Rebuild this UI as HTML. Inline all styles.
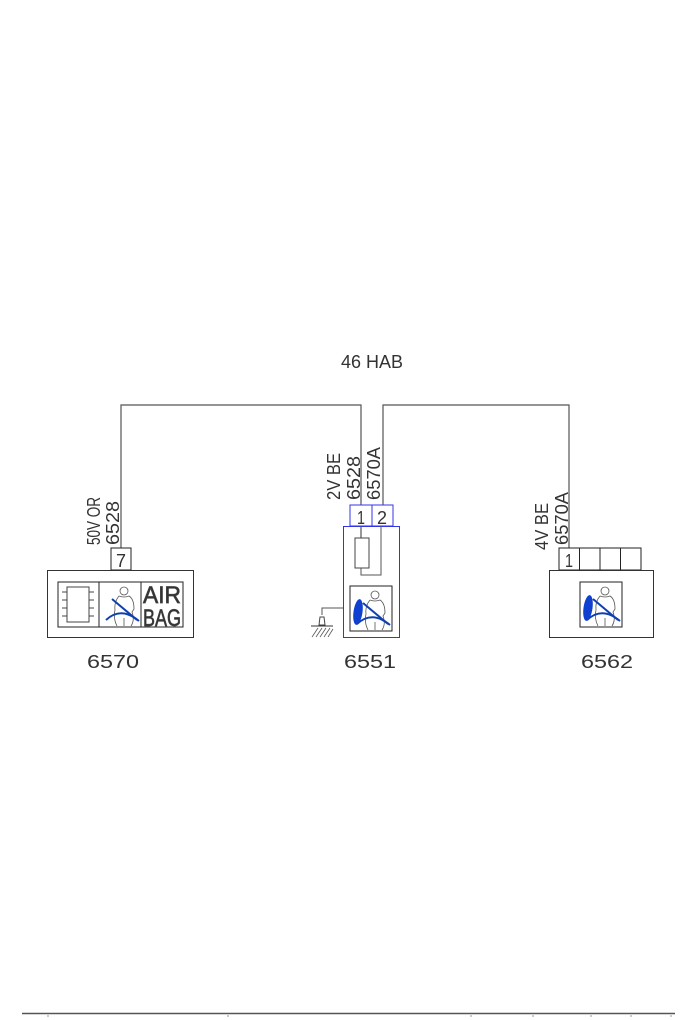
<!DOCTYPE html>
<html><head><meta charset="utf-8"><style>
html,body{margin:0;padding:0;background:#fff;}
svg{display:block;}
text{font-family:"Liberation Sans",sans-serif;fill:#333;}
</style></head><body>
<svg width="700" height="1020" viewBox="0 0 700 1020" xmlns="http://www.w3.org/2000/svg">
<defs>
<g id="person">
  <rect x="0" y="0" width="42" height="45" fill="#fff" stroke="#222" stroke-width="1"/>
  <circle cx="25" cy="9" r="4" fill="none" stroke="#555" stroke-width="0.8"/>
  <path d="M20 14 Q25 16 30 14 Q35 17 35 27 L33 30 Q36 38 32 44 M20 14 Q15 20 16 28 Q14 36 18 44 M25 44 L25 36" fill="none" stroke="#555" stroke-width="0.8"/>
  <line x1="13" y1="17" x2="38" y2="38" stroke="#1040b0" stroke-width="2"/>
  <path d="M7 38 Q22 24 40 39" fill="none" stroke="#1040b0" stroke-width="2"/>
</g>
</defs>
<g stroke="#555" stroke-width="1.2" fill="none">
  <polyline points="121,548 121,405 361,405 361,538"/>
  <polyline points="383,526 383,405 569,405 569,548"/>
</g>
<g font-size="18" font-weight="300" lengthAdjust="spacingAndGlyphs">
<text x="341" y="368" textLength="62" lengthAdjust="spacingAndGlyphs">46  HAB</text>
<!-- left -->
<rect x="111" y="548" width="20" height="22" fill="#fff" stroke="#222"/>
<text x="116" y="567" textLength="10" lengthAdjust="spacingAndGlyphs">7</text>
<rect x="47.5" y="570.5" width="146" height="67" fill="#fff" stroke="#333"/>
<rect x="58" y="582" width="41" height="45" fill="#fff" stroke="#222"/>
<rect x="67" y="587" width="22" height="35" fill="none" stroke="#444"/>
<g stroke="#444"><line x1="62" y1="592" x2="67" y2="592"/><line x1="62" y1="600" x2="67" y2="600"/><line x1="62" y1="608" x2="67" y2="608"/><line x1="62" y1="616" x2="67" y2="616"/><line x1="89" y1="592" x2="94" y2="592"/><line x1="89" y1="600" x2="94" y2="600"/><line x1="89" y1="608" x2="94" y2="608"/><line x1="89" y1="616" x2="94" y2="616"/></g>
<use href="#person" x="99" y="582"/>
<rect x="141" y="582" width="42" height="45" fill="#fff" stroke="#222"/>
<text x="143" y="603" font-size="24" textLength="38" lengthAdjust="spacingAndGlyphs" fill="#fff" stroke="#444" stroke-width="0.7">AIR</text>
<text x="143" y="626" font-size="24" textLength="38" lengthAdjust="spacingAndGlyphs" fill="#fff" stroke="#444" stroke-width="0.7">BAG</text>
<text transform="translate(100 545) rotate(-90)" textLength="48" lengthAdjust="spacingAndGlyphs">50V  OR</text>
<text transform="translate(119 545) rotate(-90)" textLength="44" lengthAdjust="spacingAndGlyphs">6528</text>
<text x="87" y="668" textLength="52" lengthAdjust="spacingAndGlyphs">6570</text>
<!-- middle -->
<rect x="350" y="505" width="43" height="21" fill="#fff" stroke="#3333ee"/>
<line x1="372" y1="505" x2="372" y2="526" stroke="#3333ee"/>
<text x="357" y="524" textLength="8" lengthAdjust="spacingAndGlyphs">1</text>
<text x="377" y="524" textLength="10" lengthAdjust="spacingAndGlyphs">2</text>
<rect x="343.5" y="526.5" width="56" height="111" fill="none" stroke="#3333ee"/>
<line x1="361" y1="526" x2="361" y2="538" stroke="#555"/>
<rect x="355" y="538" width="14" height="30" fill="#fff" stroke="#444"/>
<polyline points="361,568 361,575 381,575 381,526" fill="none" stroke="#555"/>
<use href="#person" x="350" y="586"/>
<ellipse cx="358" cy="612" rx="4.5" ry="13" transform="rotate(8 358 612)" fill="#1040d0"/>
<polyline points="343,608 322,608 322,615" fill="none" stroke="#555"/>
<path d="M319 625 L320 617 L324 617 L325 625 Z" fill="none" stroke="#444"/>
<line x1="311" y1="626" x2="333" y2="626" stroke="#333"/>
<g stroke="#555" stroke-width="0.8"><line x1="312" y1="637" x2="318" y2="628"/><line x1="316" y1="637" x2="322" y2="628"/><line x1="320" y1="637" x2="326" y2="628"/><line x1="324" y1="637" x2="330" y2="628"/><line x1="328" y1="637" x2="333" y2="629"/></g>
<text transform="translate(340 500) rotate(-90)" textLength="47" lengthAdjust="spacingAndGlyphs">2V  BE</text>
<text transform="translate(360 500) rotate(-90)" textLength="44" lengthAdjust="spacingAndGlyphs">6528</text>
<text transform="translate(380 500) rotate(-90)" textLength="53" lengthAdjust="spacingAndGlyphs">6570A</text>
<text x="344" y="668" textLength="52" lengthAdjust="spacingAndGlyphs">6551</text>
<!-- right -->
<g fill="#fff" stroke="#222"><rect x="559" y="548" width="20.5" height="22"/><rect x="579.5" y="548" width="20.5" height="22"/><rect x="600" y="548" width="20.5" height="22"/><rect x="620.5" y="548" width="20.5" height="22"/></g>
<text x="565" y="567" textLength="8" lengthAdjust="spacingAndGlyphs">1</text>
<rect x="549.5" y="570.5" width="104" height="67" fill="#fff" stroke="#333"/>
<use href="#person" x="580" y="582"/>
<ellipse cx="588" cy="608" rx="4.5" ry="13" transform="rotate(8 588 608)" fill="#1040d0"/>
<text transform="translate(548 550) rotate(-90)" textLength="47" lengthAdjust="spacingAndGlyphs">4V  BE</text>
<text transform="translate(568 545) rotate(-90)" textLength="53" lengthAdjust="spacingAndGlyphs">6570A</text>
<text x="581" y="668" textLength="52" lengthAdjust="spacingAndGlyphs">6562</text>
</g>
<!-- bottom -->
<line x1="22" y1="1013.5" x2="675" y2="1013.5" stroke="#555" stroke-width="1.5"/>
<g stroke="#999"><line x1="48" y1="1015" x2="48" y2="1017"/><line x1="228" y1="1015" x2="228" y2="1017"/><line x1="471" y1="1015" x2="471" y2="1017"/><line x1="533" y1="1015" x2="533" y2="1017"/><line x1="591" y1="1015" x2="591" y2="1017"/><line x1="631" y1="1015" x2="631" y2="1017"/><line x1="671" y1="1015" x2="671" y2="1017"/></g>
</svg>
</body></html>
